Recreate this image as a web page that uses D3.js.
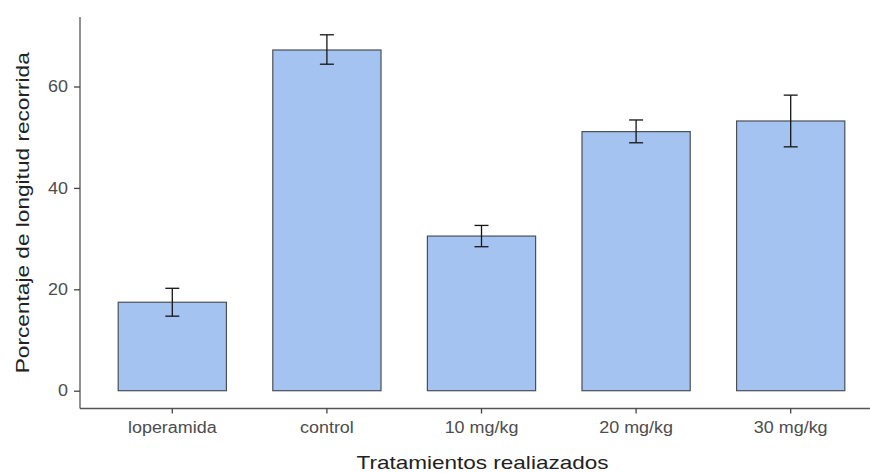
<!DOCTYPE html>
<html>
<head>
<meta charset="utf-8">
<script src="https://cdn.jsdelivr.net/npm/d3@7"></script>
<style>
  body { margin: 0; background: #fff; }
  svg { display: block; font-family: "Liberation Sans", Arial, sans-serif; }
</style>
</head>
<body>
<svg id="chart" width="870" height="473"></svg>
<script>
// values
const treatments = ["loperamida", "control", "10 mg/kg", "20 mg/kg", "30 mg/kg"];
const means = [17.45, 67.2, 30.5, 51.1, 53.2];
const errLow = [14.7, 64.4, 28.4, 48.9, 48.1];
const errHigh = [20.2, 70.2, 32.6, 53.4, 58.3];
const yTicks = [0, 20, 40, 60];

const W = 870, H = 473;
const panelLeft = 80, panelTop = 17, panelBottom = 408.5;
const stretch = 1.12; // text in the picture is a little wider than Arial

const svg = d3.select("#chart");

const x = d3.scaleBand()
    .domain(treatments)
    .range([95, 868])
    .paddingInner(0.3)
    .paddingOuter(0.15);

const y = d3.scaleLinear()
    .domain([-3.51, 73.71])
    .range([panelBottom, panelTop]);

const rows = treatments.map((t, i) => ({t: t, m: means[i], lo: errLow[i], hi: errHigh[i]}));

// bars
svg.append("g").selectAll("rect")
    .data(rows)
    .join("rect")
      .attr("x", d => x(d.t))
      .attr("y", d => y(d.m))
      .attr("width", x.bandwidth())
      .attr("height", d => y(0) - y(d.m))
      .attr("fill", "#a5c3f0")
      .attr("stroke", "#4a4f57")
      .attr("stroke-width", 1.2);

// error bars
const capW = 7;
const eb = svg.append("g").attr("stroke", "#151515").attr("stroke-width", 1.3);
rows.forEach(d => {
    const cx = x(d.t) + x.bandwidth() / 2;
    eb.append("line").attr("x1", cx).attr("x2", cx).attr("y1", y(d.hi)).attr("y2", y(d.lo));
    eb.append("line").attr("x1", cx - capW).attr("x2", cx + capW).attr("y1", y(d.hi)).attr("y2", y(d.hi));
    eb.append("line").attr("x1", cx - capW).attr("x2", cx + capW).attr("y1", y(d.lo)).attr("y2", y(d.lo));
});

// axes
const yAxis = svg.append("g")
    .attr("transform", `translate(${panelLeft},0)`)
    .call(d3.axisLeft(y).tickValues(yTicks).tickSize(6).tickPadding(6).tickSizeOuter(0));

const xAxis = svg.append("g")
    .attr("transform", `translate(0,${panelBottom})`)
    .call(d3.axisBottom(x).tickSize(5).tickPadding(8).tickSizeOuter(0));

[yAxis, xAxis].forEach(g => {
    g.select(".domain").attr("stroke", "#555").attr("stroke-width", 1.3);
    g.selectAll(".tick line").attr("stroke", "#444").attr("stroke-width", 1.3);
    g.selectAll(".tick text")
        .attr("fill", "#4d4d4d")
        .attr("font-size", 16)
        .attr("font-family", "Liberation Sans, Arial, sans-serif")
        .each(function() {
            const len = this.getComputedTextLength();
            d3.select(this).attr("textLength", len * stretch).attr("lengthAdjust", "spacingAndGlyphs");
        });
});
// axis lines run the full panel
yAxis.select(".domain").attr("d", `M0,${panelTop}V${panelBottom}`);
xAxis.select(".domain").attr("d", `M${panelLeft},0H${W}`);

// titles
svg.append("text")
    .attr("x", 482.5)
    .attr("y", 469)
    .attr("text-anchor", "middle")
    .attr("font-size", 19)
    .attr("fill", "#222")
    .attr("textLength", 252)
    .attr("lengthAdjust", "spacingAndGlyphs")
    .text("Tratamientos realiazados");

svg.append("text")
    .attr("transform", `translate(29,${(panelTop + panelBottom) / 2}) rotate(-90)`)
    .attr("text-anchor", "middle")
    .attr("font-size", 19)
    .attr("fill", "#222")
    .attr("textLength", 321)
    .attr("lengthAdjust", "spacingAndGlyphs")
    .text("Porcentaje de longitud recorrida");
</script>
</body>
</html>
